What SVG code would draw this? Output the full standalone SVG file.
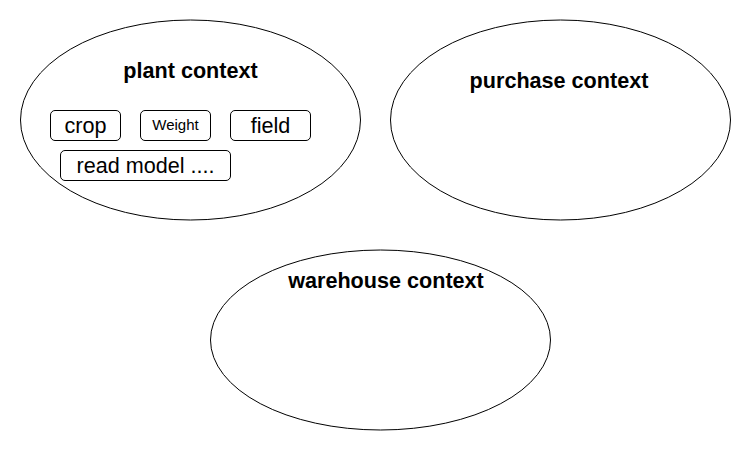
<svg xmlns="http://www.w3.org/2000/svg" width="751" height="451" viewBox="0 0 751 451">
<style>
.ctx{fill:#fff;stroke:#000;stroke-width:1}
.box{fill:#fff;stroke:#000;stroke-width:1}
.t{font-family:"Liberation Sans",Arial,sans-serif;fill:#000;text-anchor:middle}
.b{font-weight:bold;font-size:21.6px}
.n{font-size:21.6px}
.s{font-size:15px}
</style>
<rect width="751" height="451" fill="#fff"/>
<g id="plant-context">
<ellipse class="ctx" cx="190.5" cy="120" rx="170" ry="100"/>
<text class="t b" x="190.5" y="78">plant context</text>
</g>
<g id="crop">
<rect class="box" x="50.5" y="110.5" width="70" height="30" rx="4.5"/>
<text class="t n" x="85.5" y="133">crop</text>
</g>
<g id="weight">
<rect class="box" x="140.5" y="110.5" width="70" height="30" rx="4.5"/>
<text class="t s" x="175.5" y="130">Weight</text>
</g>
<g id="field">
<rect class="box" x="230.5" y="110.5" width="80" height="30" rx="4.5"/>
<text class="t n" x="270.5" y="133">field</text>
</g>
<g id="read-model">
<rect class="box" x="60.5" y="150.5" width="170" height="30" rx="4.5"/>
<text class="t n" x="145.5" y="173">read model ....</text>
</g>
<g id="purchase-context">
<ellipse class="ctx" cx="560.5" cy="120" rx="170" ry="100"/>
<text class="t b" x="559" y="88">purchase context</text>
</g>
<g id="warehouse-context">
<ellipse class="ctx" cx="380.5" cy="340" rx="170" ry="90"/>
<text class="t b" x="386" y="288">warehouse context</text>
</g>
<g id="connectors"></g>
</svg>
